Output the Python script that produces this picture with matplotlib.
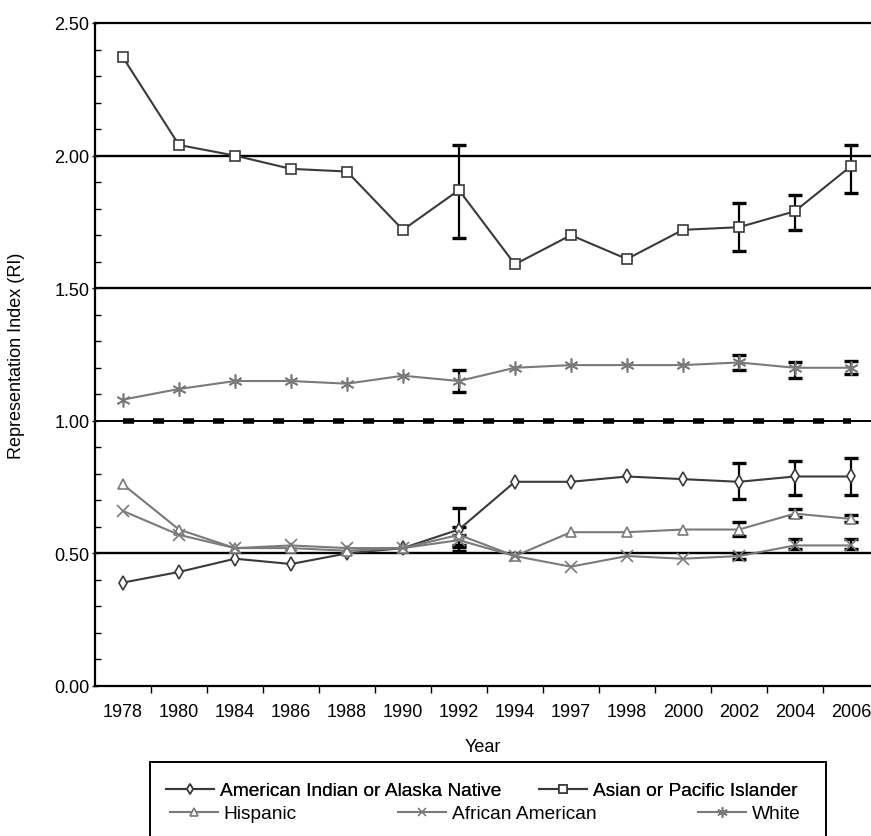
import numpy as np
import matplotlib
matplotlib.use("Agg")
import matplotlib.pyplot as plt
from matplotlib.patches import Rectangle

plt.rcParams['font.family'] = ['Liberation Sans', 'DejaVu Sans']

years = ['1978', '1980', '1984', '1986', '1988', '1990', '1992', '1994',
         '1997', '1998', '2000', '2002', '2004', '2006']
nan = np.nan

asian = [2.37, 2.04, 2.00, 1.95, 1.94, 1.72, 1.87, 1.59, 1.70, 1.61, 1.72, 1.73, 1.79, 1.96]
asian_lo = [nan, nan, nan, nan, nan, nan, 1.69, nan, nan, nan, nan, 1.64, 1.72, 1.86]
asian_hi = [nan, nan, nan, nan, nan, nan, 2.04, nan, nan, nan, nan, 1.82, 1.85, 2.04]

white = [1.08, 1.12, 1.15, 1.15, 1.14, 1.17, 1.15, 1.20, 1.21, 1.21, 1.21, 1.22, 1.20, 1.20]
white_lo = [nan, nan, nan, nan, nan, nan, 1.11, nan, nan, nan, nan, 1.19, 1.16, 1.175]
white_hi = [nan, nan, nan, nan, nan, nan, 1.19, nan, nan, nan, nan, 1.25, 1.22, 1.225]

amind = [0.39, 0.43, 0.48, 0.46, 0.50, 0.52, 0.59, 0.77, 0.77, 0.79, 0.78, 0.77, 0.79, 0.79]
amind_lo = [nan, nan, nan, nan, nan, nan, 0.525, nan, nan, nan, nan, 0.705, 0.72, 0.72]
amind_hi = [nan, nan, nan, nan, nan, nan, 0.67, nan, nan, nan, nan, 0.84, 0.85, 0.86]

hisp = [0.76, 0.59, 0.52, 0.52, 0.51, 0.52, 0.57, 0.49, 0.58, 0.58, 0.59, 0.59, 0.65, 0.63]
hisp_lo = [nan, nan, nan, nan, nan, nan, 0.53, nan, nan, nan, nan, 0.565, 0.637, 0.618]
hisp_hi = [nan, nan, nan, nan, nan, nan, 0.60, nan, nan, nan, nan, 0.618, 0.669, 0.644]

afr = [0.66, 0.57, 0.52, 0.53, 0.52, 0.52, 0.55, 0.49, 0.45, 0.49, 0.48, 0.49, 0.53, 0.53]
afr_lo = [nan, nan, nan, nan, nan, nan, 0.51, nan, nan, nan, nan, 0.48, 0.515, 0.515]
afr_hi = [nan, nan, nan, nan, nan, nan, 0.57, nan, nan, nan, nan, 0.50, 0.553, 0.553]

ref_lines = [2.0, 1.5, 0.5]

fs = 13
fig = plt.figure(figsize=(8.71, 8.37), dpi=100)
ax = fig.add_axes([95/871, 1-687/837, 1-95/871, (687-24)/837])
x = np.arange(len(years))

# reference lines
for r in ref_lines:
    ax.axhline(r, color='black', lw=1.7, zorder=1)
ax.axhline(1.0, color='black', lw=1.4, zorder=1)
ax.plot([x[0], x[-1]], [1.0, 1.0], color='black', lw=4, dashes=(2, 3.4), zorder=1)

dark = '#3a3a3a'
light = '#7a7a7a'
series = [
    ('American Indian or Alaska Native', amind, amind_lo, amind_hi, 'd', dark, 7),
    ('Asian or Pacific Islander', asian, asian_lo, asian_hi, 's', dark, 7),
    ('Hispanic', hisp, hisp_lo, hisp_hi, '^', light, 7),
    ('African American', afr, afr_lo, afr_hi, 'x', light, 8),
    ('White', white, white_lo, white_hi, (6, 2, 0), light, 10),
]
handles = []
for name, vals, lo, hi, mk, col, ms in series:
    vals = np.array(vals)
    lo = np.array(lo)
    hi = np.array(hi)
    m = ~np.isnan(lo)
    ax.errorbar(x[m], vals[m], yerr=[vals[m]-lo[m], hi[m]-vals[m]], fmt='none',
                ecolor='black', elinewidth=1.6, capsize=5, capthick=2.4, zorder=3)
    h, = ax.plot(x, vals, color=col, lw=1.5, marker=mk, ms=ms, mfc='white',
                 mec=col, mew=1.2, zorder=4, label=name)
    handles.append(h)

ax.set_xlim(-0.5, 13.36)
ax.set_ylim(0, 2.5)
ax.set_xticks(x)
ax.set_xticklabels(years, fontsize=fs)
ax.set_xticks(x[:-1] + 0.5, minor=True)
ax.tick_params(axis='x', which='major', length=0, pad=12)
ax.tick_params(axis='x', which='minor', length=5, direction='out', width=1)
ax.set_yticks([0, 0.5, 1.0, 1.5, 2.0, 2.5])
ax.set_yticklabels(['0.00', '0.50', '1.00', '1.50', '2.00', '2.50'], fontsize=fs)
ax.set_yticks(np.arange(0, 2.5, 0.1), minor=True)
ax.tick_params(axis='y', which='major', length=4, direction='inout', width=1, pad=2)
ax.tick_params(axis='y', which='minor', length=4, direction='in', width=1)
ax.spines['right'].set_visible(False)
for s in ['left', 'bottom', 'top']:
    ax.spines[s].set_linewidth(1.6)

ax.set_xlabel('Year', fontsize=fs, labelpad=13)
ax.set_ylabel('Representation Index (RI)', fontsize=fs)
ax.yaxis.set_label_coords(-70/(871-95), 0.5)

# legend in two rows, framed by a box that runs off the bottom
lfs = 13.8
leg1 = fig.legend(handles[:2], [s[0] for s in series[:2]], loc='upper left',
                  bbox_to_anchor=(166/871, 1-783/837), ncol=2, frameon=False,
                  fontsize=lfs, handlelength=2.5, columnspacing=2.0, markerscale=0.75,
                  handletextpad=0.3, borderpad=0, borderaxespad=0)
leg2 = fig.legend(handles[2:], [s[0] for s in series[2:]], loc='upper left',
                  bbox_to_anchor=(170/871, 1-806/837), ncol=3, frameon=False,
                  fontsize=lfs, handlelength=2.5, columnspacing=5.3, markerscale=0.75,
                  handletextpad=0.3, borderpad=0, borderaxespad=0)
fig.add_artist(leg1)
fig.patches.append(Rectangle((150/871, -0.05), (826-150)/871, 1-763/837+0.05,
                             transform=fig.transFigure, fill=False,
                             edgecolor='black', lw=1.4))

fig.savefig('out.png', dpi=100)
